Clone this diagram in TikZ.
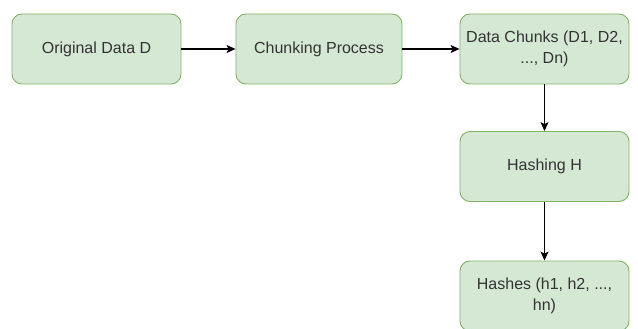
\documentclass[tikz,border=0pt]{standalone}
\usepackage{fontspec}
\setmainfont{Liberation Sans}
\usetikzlibrary{arrows.meta}
\definecolor{boxfill}{HTML}{D5E8D4}
\definecolor{boxline}{HTML}{82B366}
\definecolor{boxtext}{HTML}{333333}
\begin{document}
\begin{tikzpicture}[x=1pt,y=-1pt,
  stepbox/.style={draw=boxline, line width=0.9pt, fill=boxfill, rounded corners=10pt,
    minimum height=70pt, inner sep=2pt, align=center, text=boxtext,
    font=\fontsize{16pt}{21.5pt}\selectfont},
  flow/.style={draw=black, line width=1.1pt, -{Stealth[length=9pt,width=8pt,inset=2pt]}}]
  \useasboundingbox (0,0) rectangle (638,329);
  \fill[white] (0,0) rectangle (638,329);
  % processing pipeline
  \node[stepbox, minimum width=169pt] (orig)   at (96.5,49)   {Original Data D};
  \node[stepbox, minimum width=166pt] (chunk)  at (319,49)    {Chunking Process};
  \node[stepbox, minimum width=169pt] (chunks) at (544.5,49)  {Data Chunks (D1, D2,\\..., Dn)};
  \node[stepbox, minimum width=169pt] (hash)   at (544.5,166.5) {Hashing H};
  \node[stepbox, minimum width=169pt] (hashes) at (544.5,296) {Hashes (h1, h2, ...,\\hn)};
  % connectors
  \draw[flow] (orig) -- (chunk);
  \draw[flow] (chunk) -- (chunks);
  \draw[flow] (chunks) -- (hash);
  \draw[flow] (hash) -- (hashes);
\end{tikzpicture}
\end{document}
